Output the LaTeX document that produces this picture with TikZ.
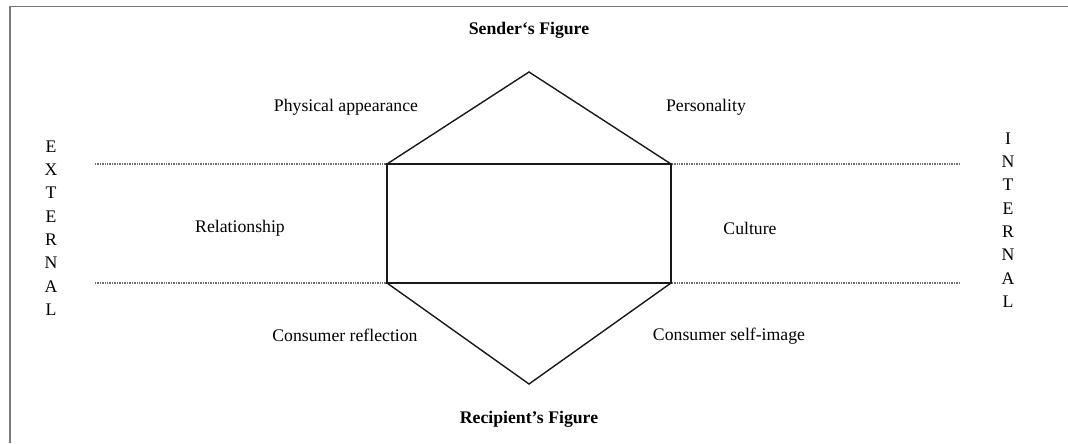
\documentclass[tikz,border=0pt]{standalone}
\usepackage{fontspec}
\setmainfont{Liberation Serif}
\usepackage{tikz}
\usetikzlibrary{calc,positioning}
\definecolor{framegray}{HTML}{7A7A7A}
\definecolor{dotgray}{HTML}{707070}
\tikzset{
  lbl/.style={font=\fontsize{12.6}{14}\selectfont,inner sep=1pt},
  head/.style={font=\fontsize{12.6}{14}\selectfont\bfseries,inner sep=1pt},
  side/.style={font=\fontsize{12.6}{16.6}\selectfont,align=center,inner sep=0pt},
  edge/.style={line width=1pt,black!90,line join=miter},
  zone/.style={dotgray,line width=0.8pt,dash pattern=on 0.6pt off 0.6pt}
}

\begin{document}
\begin{tikzpicture}[x=0.025cm,y=-0.025cm]
\useasboundingbox (0,0) rectangle (1068,443);
\draw[framegray,line width=0.8pt] (10,443)--(10,6.5)--(1068,6.5);
% corners of the figure
\coordinate (top) at (529,72);
\coordinate (tl) at (387,164);
\coordinate (tr) at (671,164);
\coordinate (bl) at (387,283);
\coordinate (br) at (671,283);
\coordinate (bot) at (529,384);
\coordinate (zl1) at (95,164);
\coordinate (zr1) at (960,164);
\coordinate (zl2) at (95,283);
\coordinate (zr2) at (960,283);
\draw[zone] (zl1)--(zr1) (zl2)--(zr2);
\draw[edge] (tl)--(top)--(tr)--cycle;
\draw[edge] (tl) rectangle (br);
\draw[edge] (bl)--(bot)--(br);
% labels
\node[head] (sender) at (529,30) {Sender‘s Figure};
\node[head] (recip) at (529,419) {Recipient’s Figure};
\node[lbl] (phys) at (346,107) {Physical appearance};
\node[lbl] (pers) at (706,107) {Personality};
\node[lbl] (rel) at (240,228) {Relationship};
\node[lbl] (cult) at (750,228) {Culture};
\node[lbl] (refl) at (345,335) {Consumer reflection};
\node[lbl] (self) at (729,336) {Consumer self-image};
\node[side] (ext) at (51,228) {E\\X\\T\\E\\R\\N\\A\\L};
\node[side] (int) at (1008,220) {I\\N\\T\\E\\R\\N\\A\\L};
\end{tikzpicture}
\end{document}
